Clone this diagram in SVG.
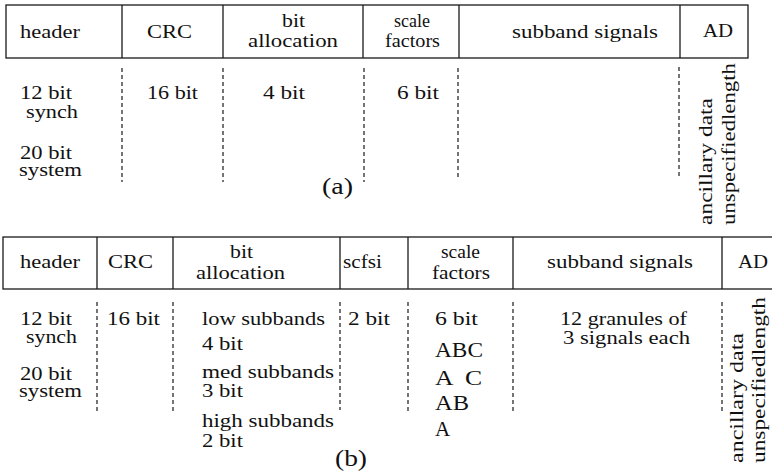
<svg xmlns="http://www.w3.org/2000/svg" width="772" height="472" viewBox="0 0 772 472">
<style>
text{font-family:"Liberation Serif","Times New Roman",serif;font-size:18px;fill:#111;}
.big{font-size:21px;}
.lbl{font-size:24px;}
.box{fill:none;stroke:#1a1a1a;stroke-width:1.3;}
.div{stroke:#1a1a1a;stroke-width:1.3;}
.dash{stroke:#1a1a1a;stroke-width:1.2;stroke-dasharray:4 3;}
</style>
<rect width="772" height="472" fill="#fff"/>

<!-- Panel (a) -->
<g id="frame-a">
<rect class="box" x="6" y="5" width="742" height="53"/>
<line class="div" x1="122" y1="5" x2="122" y2="58"/>
<line class="div" x1="223" y1="5" x2="223" y2="58"/>
<line class="div" x1="363" y1="5" x2="363" y2="58"/>
<line class="div" x1="459" y1="5" x2="459" y2="58"/>
<line class="div" x1="680" y1="5" x2="680" y2="58"/>
</g>
<g id="a-header">
<text x="20" y="38" textLength="60" lengthAdjust="spacingAndGlyphs">header</text>
<text x="20" y="99" textLength="52" lengthAdjust="spacingAndGlyphs">12 bit</text>
<text x="26" y="118" textLength="52" lengthAdjust="spacingAndGlyphs">synch</text>
<text x="20" y="159" textLength="52" lengthAdjust="spacingAndGlyphs">20 bit</text>
<text x="19" y="176" textLength="63" lengthAdjust="spacingAndGlyphs">system</text>
</g>
<g id="a-crc">
<text x="147" y="38" textLength="45" lengthAdjust="spacingAndGlyphs">CRC</text>
<text x="147" y="99" textLength="51" lengthAdjust="spacingAndGlyphs">16 bit</text>
</g>
<g id="a-bitalloc">
<text x="282" y="27" textLength="23" lengthAdjust="spacingAndGlyphs">bit</text>
<text x="248" y="47" textLength="90" lengthAdjust="spacingAndGlyphs">allocation</text>
<text x="263" y="99" textLength="42" lengthAdjust="spacingAndGlyphs">4 bit</text>
</g>
<g id="a-scale">
<text x="394" y="27" textLength="36" lengthAdjust="spacingAndGlyphs">scale</text>
<text x="385" y="47" textLength="55" lengthAdjust="spacingAndGlyphs">factors</text>
<text x="397" y="99" textLength="42" lengthAdjust="spacingAndGlyphs">6 bit</text>
</g>
<g id="a-subband">
<text x="512" y="38" textLength="146" lengthAdjust="spacingAndGlyphs">subband signals</text>
</g>
<g id="a-ad">
<text x="703" y="37" textLength="30" lengthAdjust="spacingAndGlyphs">AD</text>
<text transform="translate(712,225) rotate(-90)" textLength="127" lengthAdjust="spacingAndGlyphs">ancillary data</text>
<text transform="translate(735,225) rotate(-90)" textLength="162" lengthAdjust="spacingAndGlyphs">unspecifiedlength</text>
</g>
<text class="lbl" x="322" y="194" textLength="31" lengthAdjust="spacingAndGlyphs">(a)</text>

<!-- Panel (b) -->
<g id="frame-b">
<rect class="box" x="3" y="237" width="800" height="52"/>
<line class="div" x1="97" y1="237" x2="97" y2="289"/>
<line class="div" x1="173" y1="237" x2="173" y2="289"/>
<line class="div" x1="340" y1="237" x2="340" y2="289"/>
<line class="div" x1="408" y1="237" x2="408" y2="289"/>
<line class="div" x1="513" y1="237" x2="513" y2="289"/>
<line class="div" x1="722" y1="237" x2="722" y2="289"/>
</g>
<g id="b-header">
<text x="20" y="268" textLength="60" lengthAdjust="spacingAndGlyphs">header</text>
<text x="20" y="325" textLength="52" lengthAdjust="spacingAndGlyphs">12 bit</text>
<text x="26" y="343" textLength="51" lengthAdjust="spacingAndGlyphs">synch</text>
<text x="20" y="380" textLength="52" lengthAdjust="spacingAndGlyphs">20 bit</text>
<text x="19" y="397" textLength="63" lengthAdjust="spacingAndGlyphs">system</text>
</g>
<g id="b-crc">
<text x="108" y="268" textLength="45" lengthAdjust="spacingAndGlyphs">CRC</text>
<text x="107" y="325" textLength="53" lengthAdjust="spacingAndGlyphs">16 bit</text>
</g>
<g id="b-bitalloc">
<text x="230" y="258" textLength="23" lengthAdjust="spacingAndGlyphs">bit</text>
<text x="196" y="279" textLength="89" lengthAdjust="spacingAndGlyphs">allocation</text>
<text x="202" y="325" textLength="123" lengthAdjust="spacingAndGlyphs">low subbands</text>
<text x="202" y="350" textLength="41" lengthAdjust="spacingAndGlyphs">4 bit</text>
<text x="202" y="378" textLength="132" lengthAdjust="spacingAndGlyphs">med subbands</text>
<text x="202" y="397" textLength="41" lengthAdjust="spacingAndGlyphs">3 bit</text>
<text x="202" y="427" textLength="132" lengthAdjust="spacingAndGlyphs">high subbands</text>
<text x="202" y="447" textLength="41" lengthAdjust="spacingAndGlyphs">2 bit</text>
</g>
<g id="b-scfsi">
<text x="343" y="268" textLength="39" lengthAdjust="spacingAndGlyphs">scfsi</text>
<text x="348" y="325" textLength="42" lengthAdjust="spacingAndGlyphs">2 bit</text>
</g>
<g id="b-scale">
<text x="441" y="258" textLength="39" lengthAdjust="spacingAndGlyphs">scale</text>
<text x="432" y="279" textLength="58" lengthAdjust="spacingAndGlyphs">factors</text>
<text x="435" y="325" textLength="43" lengthAdjust="spacingAndGlyphs">6 bit</text>
<text class="big" x="435" y="357" textLength="48" lengthAdjust="spacingAndGlyphs">ABC</text>
<text class="big" x="435" y="385" xml:space="preserve" textLength="47" lengthAdjust="spacingAndGlyphs">A  C</text>
<text class="big" x="435" y="410" textLength="34" lengthAdjust="spacingAndGlyphs">AB</text>
<text class="big" x="435" y="436">A</text>
</g>
<g id="b-subband">
<text x="547" y="268" textLength="146" lengthAdjust="spacingAndGlyphs">subband signals</text>
<text x="560" y="325" textLength="127" lengthAdjust="spacingAndGlyphs">12 granules of</text>
<text x="563" y="344" textLength="127" lengthAdjust="spacingAndGlyphs">3 signals each</text>
</g>
<g id="b-ad">
<text x="738" y="268" textLength="30" lengthAdjust="spacingAndGlyphs">AD</text>
<text transform="translate(743,463) rotate(-90)" textLength="130" lengthAdjust="spacingAndGlyphs">ancillary data</text>
<text transform="translate(765,463) rotate(-90)" textLength="166" lengthAdjust="spacingAndGlyphs">unspecifiedlength</text>
</g>
<text class="lbl" x="335" y="466" textLength="32" lengthAdjust="spacingAndGlyphs">(b)</text>

<!-- dashed separators -->
<g id="connectors">
<line class="dash" x1="122" y1="68" x2="122" y2="182"/>
<line class="dash" x1="223" y1="68" x2="223" y2="182"/>
<line class="dash" x1="364" y1="68" x2="364" y2="182"/>
<line class="dash" x1="458" y1="68" x2="458" y2="180"/>
<line class="dash" x1="679" y1="67" x2="679" y2="177"/>
<line class="dash" x1="97" y1="302" x2="97" y2="413"/>
<line class="dash" x1="173" y1="302" x2="173" y2="413"/>
<line class="dash" x1="340" y1="302" x2="340" y2="410"/>
<line class="dash" x1="408" y1="302" x2="408" y2="413"/>
<line class="dash" x1="513" y1="302" x2="513" y2="413"/>
<line class="dash" x1="722" y1="302" x2="722" y2="413"/>
</g>
</svg>
